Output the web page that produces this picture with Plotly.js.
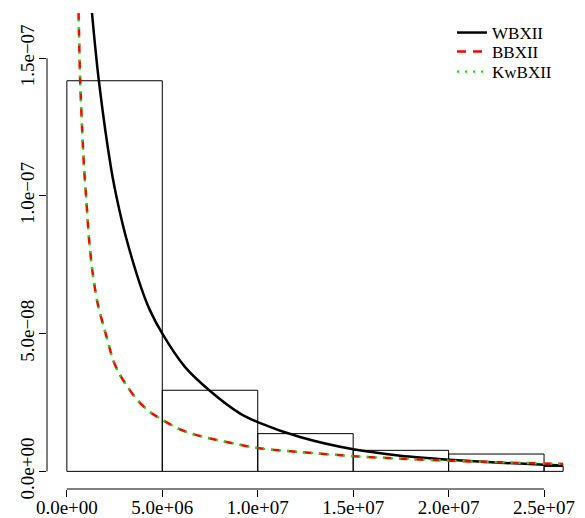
<!DOCTYPE html>
<html>
<head>
<meta charset="utf-8">
<script src="https://cdn.plot.ly/plotly-3.0.1.min.js"></script>
<style>html,body{margin:0;padding:0;background:#fff;}#chart{width:585px;height:518px;}</style>
</head>
<body>
<div id="chart"></div>
<script>
// Histogram (density scale)
const breaks = [0, 5e6, 1e7, 1.5e7, 2e7, 2.5e7, 2.6e7];
const densities = [1.418e-7, 2.945e-8, 1.37e-8, 7.64e-9, 6.3e-9, 1.8e-9];

// Fitted density curves
const wbxiiX = [1.173e6, 1.310e6, 1.677e6, 2.332e6, 2.673e6, 3.092e6, 3.878e6, 4.350e6, 4.995e6, 6.185e6, 7.458e6, 9.081e6, 1.0063e7, 1.2212e7, 1.5006e7, 1.7469e7, 2.0037e7, 2.2694e7, 2.5e7, 2.6e7];
const wbxiiY = [1.785e-7, 1.669e-7, 1.418e-7, 1.094e-7, 9.734e-8, 8.519e-8, 6.701e-8, 5.854e-8, 5.007e-8, 3.792e-8, 2.945e-8, 2.098e-8, 1.771e-8, 1.247e-8, 8.0e-9, 5.71e-9, 4.25e-9, 3.16e-9, 2.44e-9, 2.15e-9];

const bbxiiX = [5.77e5, 6.13e5, 6.97e5, 8.91e5, 1.0325e6, 1.153e6, 1.331e6, 1.614e6, 2.081e6, 2.427e6, 2.741e6, 3.181e6, 3.705e6, 4.350e6, 5.047e6, 5.833e6, 6.709e6, 1.0010e7, 1.2212e7, 1.5006e7, 1.7469e7, 2.0037e7, 2.2694e7, 2.5e7, 2.6e7];
const bbxiiY = [1.785e-7, 1.669e-7, 1.418e-7, 1.113e-7, 9.734e-8, 8.519e-8, 7.308e-8, 6.098e-8, 4.883e-8, 4.036e-8, 3.552e-8, 3.065e-8, 2.582e-8, 2.157e-8, 1.854e-8, 1.553e-8, 1.334e-8, 8.47e-9, 7.02e-9, 5.53e-9, 4.62e-9, 3.89e-9, 3.27e-9, 2.84e-9, 2.69e-9];

const kwbxiiX = [5.77e5, 6.13e5, 6.97e5, 8.91e5, 1.0325e6, 1.153e6, 1.331e6, 1.614e6, 2.081e6, 2.427e6, 2.741e6, 3.181e6, 3.705e6, 4.350e6, 5.047e6, 5.833e6, 6.709e6, 1.0010e7, 1.2212e7, 1.5006e7, 1.7469e7, 2.0037e7, 2.2694e7, 2.5e7, 2.6e7];
const kwbxiiY = [1.785e-7, 1.669e-7, 1.418e-7, 1.113e-7, 9.734e-8, 8.519e-8, 7.308e-8, 6.098e-8, 4.883e-8, 4.036e-8, 3.552e-8, 3.065e-8, 2.582e-8, 2.157e-8, 1.854e-8, 1.553e-8, 1.334e-8, 8.47e-9, 7.02e-9, 5.53e-9, 4.62e-9, 3.89e-9, 3.27e-9, 2.84e-9, 2.69e-9];

const seriesNames = ["WBXII", "BBXII", "KwBXII"];

const xTickVals = [0, 5e6, 1e7, 1.5e7, 2e7, 2.5e7];
const xTickText = ["0.0e+00", "5.0e+06", "1.0e+07", "1.5e+07", "2.0e+07", "2.5e+07"];
const yTickVals = [0, 5e-8, 1e-7, 1.5e-7];
const yTickText = ["0.0e+00", "5.0e\u221208", "1.0e\u221207", "1.5e\u221207"];

const mids = [], widths = [];
for (let i = 0; i < densities.length; i++) {
  mids.push((breaks[i] + breaks[i + 1]) / 2);
  widths.push(breaks[i + 1] - breaks[i]);
}

const FONT = '"Liberation Serif", "Times New Roman", serif';
const SPL = 0.8;

const traces = [
  {
    type: "bar", x: mids, y: densities, width: widths,
    marker: {color: "rgba(255,255,255,0)", line: {color: "#000", width: 1}},
    showlegend: false, hoverinfo: "skip"
  },
  {
    type: "scatter", mode: "lines", x: wbxiiX, y: wbxiiY, name: seriesNames[0], legend: "legend",
    line: {color: "#000", width: 2.5, shape: "spline", smoothing: SPL}
  },
  {
    type: "scatter", mode: "lines", x: bbxiiX, y: bbxiiY, name: seriesNames[1], legend: "legend2",
    line: {color: "#ff0000", width: 2.5, dash: "9px,7px", shape: "spline", smoothing: SPL}
  },
  {
    type: "scatter", mode: "lines", x: kwbxiiX, y: kwbxiiY, name: seriesNames[2], legend: "legend3",
    line: {color: "#00ee00", width: 2.2, dash: "2px,6px", shape: "spline", smoothing: SPL}
  }
];

function leg(y) {
  return {
    x: 0.7556, y: y, xanchor: "left", yanchor: "middle",
    bgcolor: "rgba(0,0,0,0)", borderwidth: 0,
    font: {family: FONT, size: 17, color: "#000"}
  };
}

const layout = {
  width: 585, height: 518,
  margin: {l: 47, r: 2, t: 13, b: 29, pad: 0},
  paper_bgcolor: "#fff", plot_bgcolor: "#fff",
  font: {family: FONT, size: 19, color: "#000"},
  bargap: 0,
  xaxis: {
    range: [-1.04e6, 2.704e7], showgrid: false, zeroline: false, showline: false,
    tickmode: "array", tickvals: xTickVals, ticktext: xTickText,
    ticks: "outside", ticklen: 7, tickwidth: 1, tickcolor: "#000",
    ticklabelstandoff: -6,
    tickfont: {family: FONT, size: 19, color: "#000"}
  },
  yaxis: {
    range: [-6.4e-9, 1.664e-7], showgrid: false, zeroline: false, showline: false,
    tickmode: "array", tickvals: yTickVals, ticktext: yTickText,
    ticks: "outside", ticklen: 7, tickwidth: 1, tickcolor: "#000", tickangle: -90,
    ticklabelstandoff: -3,
    tickfont: {family: FONT, size: 19, color: "#000"}
  },
  shapes: [
    {type: "line", xref: "x", yref: "paper", x0: xTickVals[0], x1: xTickVals[xTickVals.length - 1], y0: 0, y1: 0, line: {color: "#000", width: 1}},
    {type: "line", xref: "paper", yref: "y", x0: 0, x1: 0, y0: yTickVals[0], y1: yTickVals[yTickVals.length - 1], line: {color: "#000", width: 1}}
  ],
  legend: leg(0.958),
  legend2: leg(0.918),
  legend3: leg(0.876),
  showlegend: true
};

Plotly.newPlot("chart", traces, layout, {displayModeBar: false, staticPlot: true});
</script>
</body>
</html>
